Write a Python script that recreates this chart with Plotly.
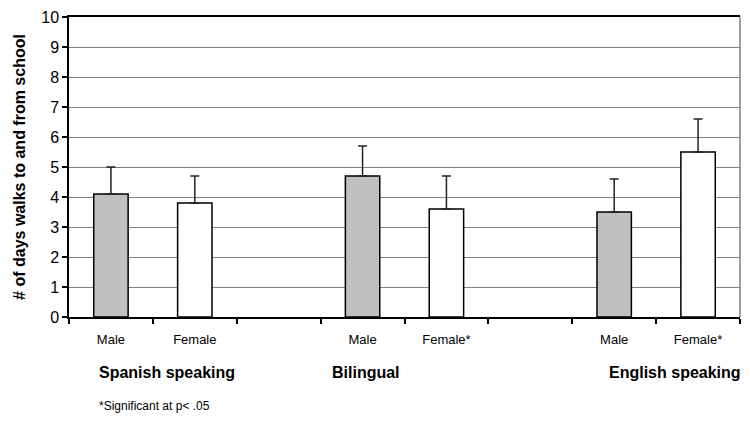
import plotly.graph_objects as go

# data
groups = ["Spanish speaking", "Bilingual", "English speaking"]
male_labels = ["Male", "Male", "Male"]
female_labels = ["Female", "Female*", "Female*"]
male_means = [4.1, 4.7, 3.5]
female_means = [3.8, 3.6, 5.5]
male_err = [0.9, 1.0, 1.1]
female_err = [0.9, 1.1, 1.1]
footnote = "*Significant at p< .05"

FONT = "Liberation Sans, Arial, sans-serif"
SLOTS = 8  # 3 groups x (male, female) + 2 blank slots between groups

male_x = [3 * i for i in range(len(groups))]
female_x = [3 * i + 1 for i in range(len(groups))]

fig = go.Figure()
fig.add_trace(go.Bar(
    x=male_x, y=male_means, width=0.41,
    marker=dict(color="#c0c0c0", line=dict(color="#000000", width=1.5)),
    error_y=dict(type="data", array=male_err, symmetric=False, arrayminus=[0] * 3,
                 color="#222222", thickness=1.5, width=4.5),
    name="Male",
))
fig.add_trace(go.Bar(
    x=female_x, y=female_means, width=0.41,
    marker=dict(color="#ffffff", line=dict(color="#000000", width=1.5)),
    error_y=dict(type="data", array=female_err, symmetric=False, arrayminus=[0] * 3,
                 color="#222222", thickness=1.5, width=4.5),
    name="Female",
))

# group labels (bold) under the sex labels, x in data units
group_label_x = [-0.17, 2.61, 5.91]
for gx, g in zip(group_label_x, groups):
    fig.add_annotation(x=gx, xref="x", y=-0.186, yref="paper", text=f"<b>{g}</b>",
                       showarrow=False, xanchor="left", yanchor="middle",
                       font=dict(family=FONT, size=16, color="#000000"))

fig.add_annotation(x=-0.17, xref="x", y=-0.295, yref="paper", text=footnote,
                   showarrow=False, xanchor="left", yanchor="middle",
                   font=dict(family=FONT, size=12, color="#000000"))

# right frame line is grey in the original
fig.add_shape(type="line", xref="paper", yref="paper", x0=1, x1=1, y0=0, y1=1,
              line=dict(color="#808080", width=1.5))

# the page body keeps its default 8px margin, so the figure is sized to fit inside it
fig.update_layout(
    width=734, height=405,
    margin=dict(l=61, r=2, t=9, b=96),
    paper_bgcolor="white", plot_bgcolor="white",
    barmode="overlay", showlegend=False,
    font=dict(family=FONT, color="#000000"),
    xaxis=dict(
        range=[-0.5, SLOTS - 0.5], automargin=False,
        tickmode="array",
        tickvals=male_x + female_x,
        ticktext=male_labels + female_labels,
        ticks="", ticklabelstandoff=10, showgrid=False, zeroline=False,
        showline=True, linecolor="#000000", linewidth=1.5, mirror=True,
        tickfont=dict(family=FONT, size=13),
        minor=dict(tickmode="array", tickvals=[k - 0.5 for k in range(SLOTS + 1)],
                   ticks="outside", ticklen=5, tickcolor="#000000", tickwidth=1.5,
                   showgrid=False),
    ),
    yaxis=dict(
        range=[0, 10], dtick=1, automargin=False, ticklabeloverflow="allow",
        ticks="outside", ticklen=5, tickcolor="#000000", tickwidth=1.5,
        showgrid=True, gridcolor="#808080", gridwidth=1,
        zeroline=False, showline=True, linecolor="#000000", linewidth=1.5,
        tickfont=dict(family=FONT, size=16),
        title=dict(text="<b># of days walks to and from school</b>",
                   font=dict(family=FONT, size=16), standoff=12),
    ),
)

fig.write_html("out.html")
